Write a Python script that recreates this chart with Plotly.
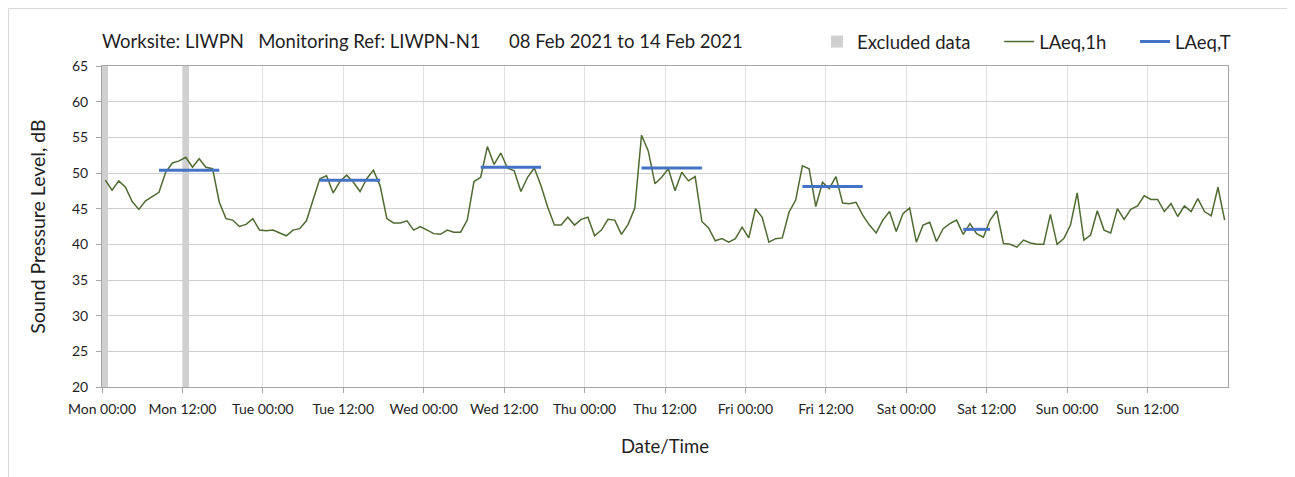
import pandas as pd
import plotly.graph_objects as go

# ---------------- data ----------------
start = pd.Timestamp("2021-02-08 00:00")

# Hourly LAeq,1h values (dB), one per hour from Mon 08 Feb 00:00 to Sun 14 Feb 23:00
laeq_1h = [
    # Mon
    49.0, 47.6, 48.9, 48.0, 46.0, 44.9, 46.1, 46.7, 47.3, 50.1, 51.4, 51.7,
    52.2, 50.8, 52.0, 50.8, 50.6, 45.9, 43.6, 43.4, 42.5, 42.8, 43.6, 42.0,
    # Tue
    41.9, 42.0, 41.6, 41.2, 42.0, 42.2, 43.3, 46.1, 49.2, 49.6, 47.2, 48.8,
    49.7, 48.7, 47.4, 49.2, 50.4, 48.2, 43.6, 43.0, 43.0, 43.3, 42.0, 42.5,
    # Wed
    42.0, 41.5, 41.4, 42.0, 41.7, 41.7, 43.4, 48.8, 49.4, 53.7, 51.2, 52.8,
    50.7, 50.3, 47.4, 49.4, 50.7, 48.2, 45.2, 42.7, 42.7, 43.8, 42.7, 43.5,
    # Thu
    43.8, 41.2, 42.0, 43.5, 43.4, 41.4, 42.8, 45.1, 55.3, 53.1, 48.5, 49.4,
    50.6, 47.5, 50.1, 48.9, 49.5, 43.2, 42.3, 40.5, 40.8, 40.3, 40.8, 42.4,
    # Fri
    40.9, 45.0, 43.8, 40.3, 40.8, 40.9, 44.5, 46.2, 51.0, 50.6, 45.3, 48.7,
    47.8, 49.5, 45.8, 45.7, 45.9, 44.1, 42.7, 41.6, 43.4, 44.6, 41.8, 44.3,
    # Sat
    45.1, 40.3, 42.7, 43.1, 40.4, 42.2, 42.9, 43.4, 41.4, 42.9, 41.5, 41.0,
    43.4, 44.7, 40.1, 40.0, 39.6, 40.6, 40.2, 40.0, 40.0, 44.2, 40.0, 40.8,
    # Sun
    42.7, 47.2, 40.6, 41.3, 44.7, 42.0, 41.6, 45.0, 43.5, 44.9, 45.4, 46.8,
    46.3, 46.3, 44.6, 45.7, 43.9, 45.4, 44.6, 46.4, 44.6, 44.0, 48.0, 43.4,
]

# LAeq,T period averages (first hour, last hour, value)
laeqT_first = ["2021-02-08 08:30", "2021-02-09 08:30", "2021-02-10 08:30",
               "2021-02-11 08:30", "2021-02-12 08:30", "2021-02-13 08:30"]
laeqT_last = ["2021-02-08 17:30", "2021-02-09 17:30", "2021-02-10 17:30",
              "2021-02-11 17:30", "2021-02-12 17:30", "2021-02-13 12:30"]
laeqT_value = [50.4, 49.0, 50.8, 50.7, 48.1, 42.1]

# Excluded data hours (centre of excluded hour)
excluded_hours = ["2021-02-08 00:30", "2021-02-08 12:30"]

tick_vals = pd.date_range(start, periods=14, freq="12h")
tick_text = ["Mon 00:00", "Mon 12:00", "Tue 00:00", "Tue 12:00", "Wed 00:00",
             "Wed 12:00", "Thu 00:00", "Thu 12:00", "Fri 00:00", "Fri 12:00",
             "Sat 00:00", "Sat 12:00", "Sun 00:00", "Sun 12:00"]

Y_MIN, Y_MAX = 20, 65

# ---------------- figure ----------------
FONT = "Lato"
TXT = "#1f1f1f"
# page offset of the figure inside the html body (default body margin)
OFF = 8
W, H = 1295 - OFF, 477 - OFF
ML, MR, MT, MB = 102 - OFF, 1295 - 1228, 66 - OFF, 477 - 387
PW, PH = W - ML - MR, H - MT - MB

def px_x(page_x):
    return (page_x - 102) / PW

def px_y(page_y):
    return (387 - page_y) / PH

hour_times = [start + pd.Timedelta(minutes=30) + pd.Timedelta(hours=i) for i in range(len(laeq_1h))]

fig = go.Figure()

fig.add_trace(go.Bar(
    x=pd.to_datetime(excluded_hours),
    y=[Y_MAX - Y_MIN] * len(excluded_hours),
    base=[Y_MIN] * len(excluded_hours),
    width=[3600000 * 0.9] * len(excluded_hours),
    marker=dict(color="#d0d0d0", line=dict(width=0)),
    name="Excluded data" + "&nbsp;" * 5,
    hoverinfo="skip",
))

fig.add_trace(go.Scatter(
    x=hour_times, y=laeq_1h, mode="lines",
    line=dict(color="#4E6B30", width=1.5),
    name="LAeq,1h" + "&nbsp;" * 5,
))

tx, ty = [], []
for a, b, v in zip(laeqT_first, laeqT_last, laeqT_value):
    tx += [pd.Timestamp(a), pd.Timestamp(b), None]
    ty += [v, v, None]
fig.add_trace(go.Scatter(
    x=tx, y=ty, mode="lines",
    line=dict(color="#4472C4", width=3),
    name="LAeq,T", connectgaps=False,
))

fig.update_layout(
    width=W, height=H,
    margin=dict(l=ML, r=MR, t=MT, b=MB, autoexpand=False),
    paper_bgcolor="white", plot_bgcolor="white",
    font=dict(family=FONT, color=TXT, size=14),
    title=dict(
        text="Worksite: LIWPN&nbsp;&nbsp;&nbsp;Monitoring Ref: LIWPN-N1&nbsp;&nbsp;&nbsp;&nbsp;&nbsp;&nbsp;08 Feb 2021 to 14 Feb 2021",
        x=0, xref="paper", xanchor="left",
        y=1 - (42 - OFF) / H, yref="container", yanchor="middle",
        font=dict(family=FONT, size=18.5, color=TXT),
    ),
    legend=dict(
        orientation="h", x=px_x(817), xanchor="left", y=px_y(42), yanchor="middle",
        font=dict(family=FONT, size=18.5, color=TXT),
        bgcolor="rgba(0,0,0,0)", traceorder="normal",
        itemwidth=30,
    ),
    bargap=0,
    showlegend=True,
)

fig.update_xaxes(
    type="date",
    range=[start, start + pd.Timedelta(days=7)],
    tickvals=tick_vals, ticktext=tick_text,
    showgrid=True, gridcolor="#e0e0e0", gridwidth=1,
    showline=True, linecolor="#a6a6a6", linewidth=1, mirror=True,
    ticks="outside", ticklen=5, tickcolor="#a6a6a6",
    ticklabelstandoff=4,
    tickfont=dict(family=FONT, size=14, color=TXT),
    title=dict(text="Date/Time", font=dict(family=FONT, size=18.5, color=TXT), standoff=24),
    zeroline=False, automargin=False,
)
fig.update_yaxes(
    range=[Y_MIN, Y_MAX], dtick=5, tick0=20,
    showgrid=True, gridcolor="#cfcfcf", gridwidth=1,
    showline=True, linecolor="#a6a6a6", linewidth=1, mirror=True,
    ticks="outside", ticklen=5, tickcolor="#a6a6a6",
    ticklabelstandoff=5,
    tickfont=dict(family=FONT, size=14, color=TXT),
    title=dict(text="Sound Pressure Level, dB", font=dict(family=FONT, size=19.5, color=TXT), standoff=21),
    zeroline=False, automargin=False,
)

# outer chart border
fig.add_shape(type="rect", xref="paper", yref="paper",
              x0=px_x(OFF + 0.5), x1=px_x(1289.5),
              y0=px_y(490), y1=px_y(OFF + 0.5),
              line=dict(color="#d9d9d9", width=1), layer="below")

fig.write_html("out.html")
